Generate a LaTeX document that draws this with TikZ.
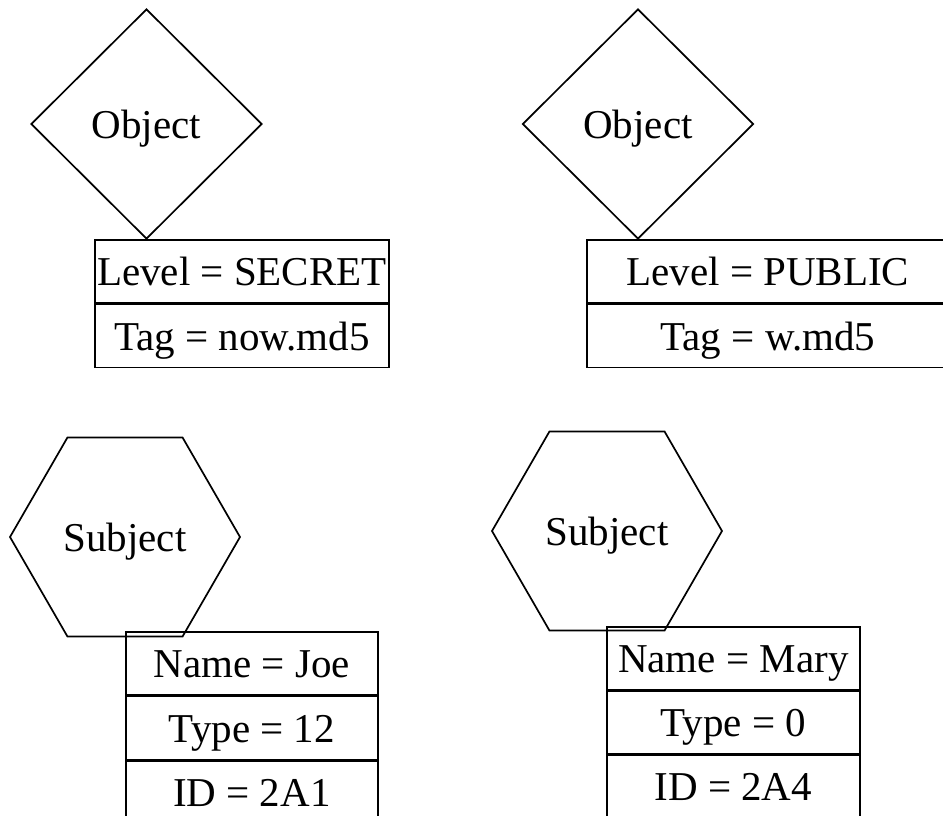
\documentclass[tikz,border=0pt]{standalone}
\usepackage{fontspec}
\setmainfont{Liberation Serif}
\usepackage{tikz}
\usetikzlibrary{shapes.geometric, positioning}

\begin{document}
\begin{tikzpicture}[
    x=1pt, y=-1pt,
    every node/.style={font=\fontsize{41}{49}\selectfont, line width=1.7pt},
    objnode/.style={diamond, draw, inner sep=0pt, minimum width=231pt, minimum height=230pt,
                    text height=28pt, text depth=0pt},
    subjnode/.style={regular polygon, regular polygon sides=6, draw, inner sep=0pt,
                     minimum size=230pt, text height=28pt, text depth=0pt},
    cell/.style={rectangle, draw, inner sep=0pt, minimum height=63pt,
                 text height=28pt, text depth=0pt, text centered}
]
    \clip (0,0) rectangle (943,816);

    % Objects
    \node[objnode] (objA) at (146.5,124) {Object};
    \node[cell, minimum width=294pt, anchor=north west] (lvlA) at (94,239) {Level = SECRET};
    \node[cell, minimum width=294pt, below=0pt of lvlA] (tagA) {Tag = now.md5};

    \node[objnode] (objB) at (638,124) {Object};
    \node[cell, minimum width=362pt, anchor=north west] (lvlB) at (586,239) {Level = PUBLIC};
    \node[cell, minimum width=362pt, below=0pt of lvlB] (tagB) {Tag = w.md5};

    % Subjects
    \node[subjnode] (subjA) at (125,537) {Subject};
    \node[cell, minimum width=252pt, anchor=north west] (nameA) at (125,631) {Name = Joe};
    \node[cell, minimum width=252pt, below=0pt of nameA] (typeA) {Type = 12};
    \node[cell, minimum width=252pt, below=0pt of typeA] (idA) {ID = 2A1};

    \node[subjnode] (subjB) at (607,531) {Subject};
    \node[cell, minimum width=253pt, minimum height=62.5pt, anchor=north west] (nameB) at (606,626) {Name = Mary};
    \node[cell, minimum width=253pt, minimum height=62.5pt, below=0pt of nameB] (typeB) {Type = 0};
    \node[cell, minimum width=253pt, minimum height=62.5pt, below=0pt of typeB] (idB) {ID = 2A4};

\end{tikzpicture}
\end{document}
